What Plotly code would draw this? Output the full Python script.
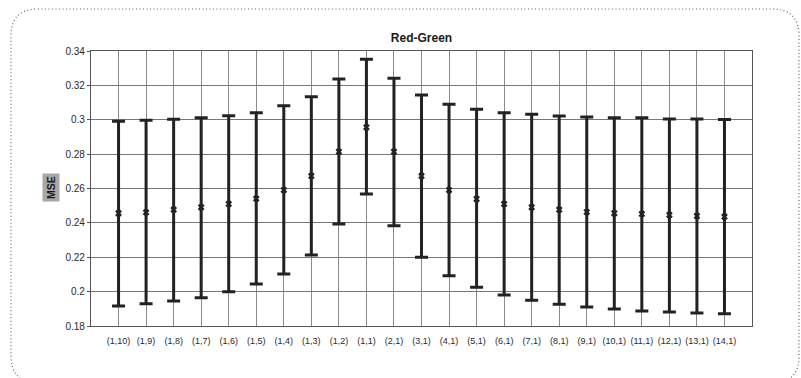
import plotly.graph_objects as go

# Model configurations along the x axis
categories = ["(1,10)", "(1,9)", "(1,8)", "(1,7)", "(1,6)", "(1,5)", "(1,4)", "(1,3)",
              "(1,2)", "(1,1)", "(2,1)", "(3,1)", "(4,1)", "(5,1)", "(6,1)", "(7,1)",
              "(8,1)", "(9,1)", "(10,1)", "(11,1)", "(12,1)", "(13,1)", "(14,1)"]

# Mean MSE and the upper / lower ends of each interval
mse_mean = [0.2456, 0.2461, 0.2477, 0.2491, 0.2510, 0.2541, 0.2591, 0.2673,
            0.2814, 0.2956, 0.2814, 0.2673, 0.2591, 0.2539, 0.2510, 0.2491,
            0.2477, 0.2463, 0.2456, 0.2452, 0.2446, 0.2440, 0.2436]
mse_upper = [0.2991, 0.2997, 0.3003, 0.3012, 0.3024, 0.3041, 0.3082, 0.3134,
             0.3237, 0.3352, 0.3241, 0.3144, 0.3090, 0.3061, 0.3041, 0.3032,
             0.3022, 0.3016, 0.3012, 0.3012, 0.3004, 0.3004, 0.3001]
mse_lower = [0.1916, 0.1930, 0.1945, 0.1965, 0.2000, 0.2044, 0.2103, 0.2213,
             0.2393, 0.2568, 0.2384, 0.2200, 0.2093, 0.2025, 0.1980, 0.1950,
             0.1926, 0.1911, 0.1899, 0.1887, 0.1881, 0.1876, 0.1872]

y_ticks = [0.18, 0.20, 0.22, 0.24, 0.26, 0.28, 0.30, 0.32, 0.34]
y_tick_text = ["0.18", "0.2", "0.22", "0.24", "0.26", "0.28", "0.3", "0.32", "0.34"]

W, H = 801, 378
ML, MR, MT, MB = 91, 49, 51, 52
PW, PH = W - ML - MR, H - MT - MB

narrow = "Liberation Sans Narrow, Arial Narrow, Liberation Sans, Arial, sans-serif"
ink = "#222222"

err_plus = [u - m for u, m in zip(mse_upper, mse_mean)]
err_minus = [m - l for m, l in zip(mse_mean, mse_lower)]

fig = go.Figure()
fig.add_trace(go.Scatter(
    x=categories, y=mse_mean, mode="markers",
    marker=dict(symbol="x", size=6, color=ink, line=dict(width=0)),
    error_y=dict(type="data", symmetric=False, array=err_plus, arrayminus=err_minus,
                 color=ink, thickness=3, width=6.5),
    showlegend=False, hoverinfo="skip",
))


def px(x, y):
    """Pixel position on the page -> paper coordinates."""
    return (x - ML) / PW, 1 - (y - MT) / PH


def P(x, y):
    a, b = px(x, y)
    return f"{a:.5f},{b:.5f}"


# dotted rounded frame around the whole figure
left, top, right, bottom, r = 11, 9, 799, 383, 27
path = (f"M {P(left + r, top)} L {P(right - r, top)} "
        f"Q {P(right, top)} {P(right, top + r)} "
        f"L {P(right, bottom - r)} Q {P(right, bottom)} {P(right - r, bottom)} "
        f"L {P(left + r, bottom)} Q {P(left, bottom)} {P(left, bottom - r)} "
        f"L {P(left, top + r)} Q {P(left, top)} {P(left + r, top)} Z")
fig.add_shape(type="path", path=path, xref="paper", yref="paper",
              line=dict(color="#666666", width=1.2, dash="1px,2.5px"), layer="below")

# y-axis label in a grey box
lx, ly = px(42, 188)
fig.add_annotation(x=lx, y=ly, xref="paper", yref="paper", text="<b>MSE</b>",
                   textangle=-90, showarrow=False, bgcolor="#a8a8a8",
                   font=dict(family="Liberation Sans, Arial, sans-serif", size=10.5, color="#1a1a1a"),
                   borderpad=2)

fig.update_layout(
    width=W, height=H,
    margin=dict(l=ML, r=MR, t=MT, b=MB),
    paper_bgcolor="white", plot_bgcolor="white",
    title=dict(text="<b>Red-Green</b>", x=(ML + PW / 2) / W, xanchor="center",
               y=1 - 38 / H, yanchor="middle", yref="container",
               font=dict(family="Liberation Sans, Arial, sans-serif", size=12, color="#1a1a1a")),
    font=dict(family=narrow, size=9, color="#333333"),
    xaxis=dict(type="category", range=[-1, 23], showgrid=True, gridcolor="#8a8a8a",
               gridwidth=1, showline=True, linecolor="#555555", linewidth=1.2, mirror=True,
               ticks="", tickangle=0, ticklabelstandoff=6,
               tickfont=dict(family=narrow, size=9, color="#2a2a2a"),
               zeroline=False),
    yaxis=dict(range=[0.18, 0.34], tickvals=y_ticks, ticktext=y_tick_text,
               showgrid=True, gridcolor="#777777", gridwidth=1.2, showline=True,
               linecolor="#555555", linewidth=1.2, mirror=True, ticks="outside",
               ticklen=3, tickcolor="#555555",
               tickfont=dict(family=narrow, size=10, color="#2a2a2a"), zeroline=False),
)

fig.write_html("out.html")
